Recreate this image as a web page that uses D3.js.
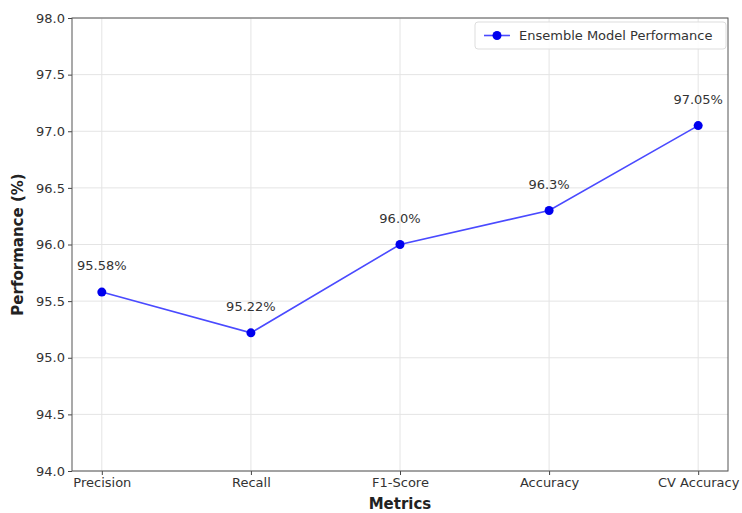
<!DOCTYPE html>
<html>
<head>
<meta charset="utf-8">
<script src="https://cdn.jsdelivr.net/npm/d3@7"></script>
<style>
  html, body { margin: 0; padding: 0; background: #fff; }
  svg { display: block; font-family: "DejaVu Sans", sans-serif; }
</style>
</head>
<body>
<svg id="chart" width="742" height="513"></svg>
<script>
// Ensemble model metrics
const metrics = ["Precision", "Recall", "F1-Score", "Accuracy", "CV Accuracy"];
const performance = [95.58, 95.22, 96.0, 96.3, 97.05];
const yTicks = [94.0, 94.5, 95.0, 95.5, 96.0, 96.5, 97.0, 97.5, 98.0];
const seriesName = "Ensemble Model Performance";

const svg = d3.select("#chart");
const plot = { left: 72, right: 728, top: 18, bottom: 471 };

const x = d3.scaleLinear().domain([-0.2, metrics.length - 1 + 0.2]).range([plot.left, plot.right]);
const y = d3.scaleLinear().domain([94, 98]).range([plot.bottom, plot.top]);

// value formatting: keep one decimal for whole numbers (96 -> 96.0)
const fmtValue = d => (Number.isInteger(d) ? d.toFixed(1) : String(d)) + "%";

// grid
const grid = svg.append("g");
grid.selectAll(".gy").data(yTicks).join("line")
  .attr("x1", plot.left).attr("x2", plot.right)
  .attr("y1", d => y(d)).attr("y2", d => y(d))
  .attr("stroke", "#e4e4e4").attr("stroke-width", 1);
grid.selectAll(".gx").data(metrics).join("line")
  .attr("x1", (d, i) => x(i)).attr("x2", (d, i) => x(i))
  .attr("y1", plot.top).attr("y2", plot.bottom)
  .attr("stroke", "#e4e4e4").attr("stroke-width", 1);

// axes
const yAxis = d3.axisLeft(y).tickValues(yTicks).tickFormat(d3.format(".1f")).tickSize(4).tickPadding(3);
const xAxis = d3.axisBottom(x).tickValues(d3.range(metrics.length)).tickFormat(i => metrics[i]).tickSize(4).tickPadding(3);

const gy = svg.append("g").attr("transform", `translate(${plot.left},0)`).call(yAxis);
const gx = svg.append("g").attr("transform", `translate(0,${plot.bottom})`).call(xAxis);
[gx, gy].forEach(g => {
  g.select(".domain").remove();
  g.selectAll("line").attr("stroke", "#444");
  g.selectAll("text").attr("fill", "#333").style("font-size", "13px").style("font-family", "DejaVu Sans, sans-serif");
});

// frame
svg.append("rect")
  .attr("x", plot.left).attr("y", plot.top)
  .attr("width", plot.right - plot.left).attr("height", plot.bottom - plot.top)
  .attr("fill", "none").attr("stroke", "#555").attr("stroke-width", 1);

// series line and markers
const line = d3.line().x((d, i) => x(i)).y(d => y(d));
svg.append("path").datum(performance)
  .attr("d", line).attr("fill", "none")
  .attr("stroke", "#4a4aff").attr("stroke-width", 1.6);
svg.selectAll(".pt").data(performance).join("circle")
  .attr("cx", (d, i) => x(i)).attr("cy", d => y(d)).attr("r", 4.5)
  .attr("fill", "#0000ee");

// value labels
svg.selectAll(".lbl").data(performance).join("text")
  .attr("x", (d, i) => x(i)).attr("y", d => y(d) - 22)
  .attr("text-anchor", "middle")
  .style("font-size", "13px").attr("fill", "#333")
  .text(fmtValue);

// axis titles
svg.append("text").attr("x", (plot.left + plot.right) / 2).attr("y", 509)
  .attr("text-anchor", "middle").style("font-size", "15px").style("font-weight", "bold")
  .attr("fill", "#222").text("Metrics");
svg.append("text").attr("transform", `translate(23,${(plot.top + plot.bottom) / 2}) rotate(-90)`)
  .attr("text-anchor", "middle").style("font-size", "15px").style("font-weight", "bold")
  .attr("fill", "#222").text("Performance (%)");

// legend
const lg = svg.append("g").attr("transform", "translate(475,22)");
lg.append("rect").attr("width", 251).attr("height", 27).attr("rx", 3)
  .attr("fill", "#fff").attr("fill-opacity", 0.85).attr("stroke", "#ddd");
lg.append("line").attr("x1", 9).attr("x2", 35).attr("y1", 13.5).attr("y2", 13.5)
  .attr("stroke", "#4a4aff").attr("stroke-width", 1.6);
lg.append("circle").attr("cx", 22).attr("cy", 13.5).attr("r", 4.5).attr("fill", "#0000ee");
lg.append("text").attr("x", 44).attr("y", 18).style("font-size", "13px").attr("fill", "#333").text(seriesName);
</script>
</body>
</html>
